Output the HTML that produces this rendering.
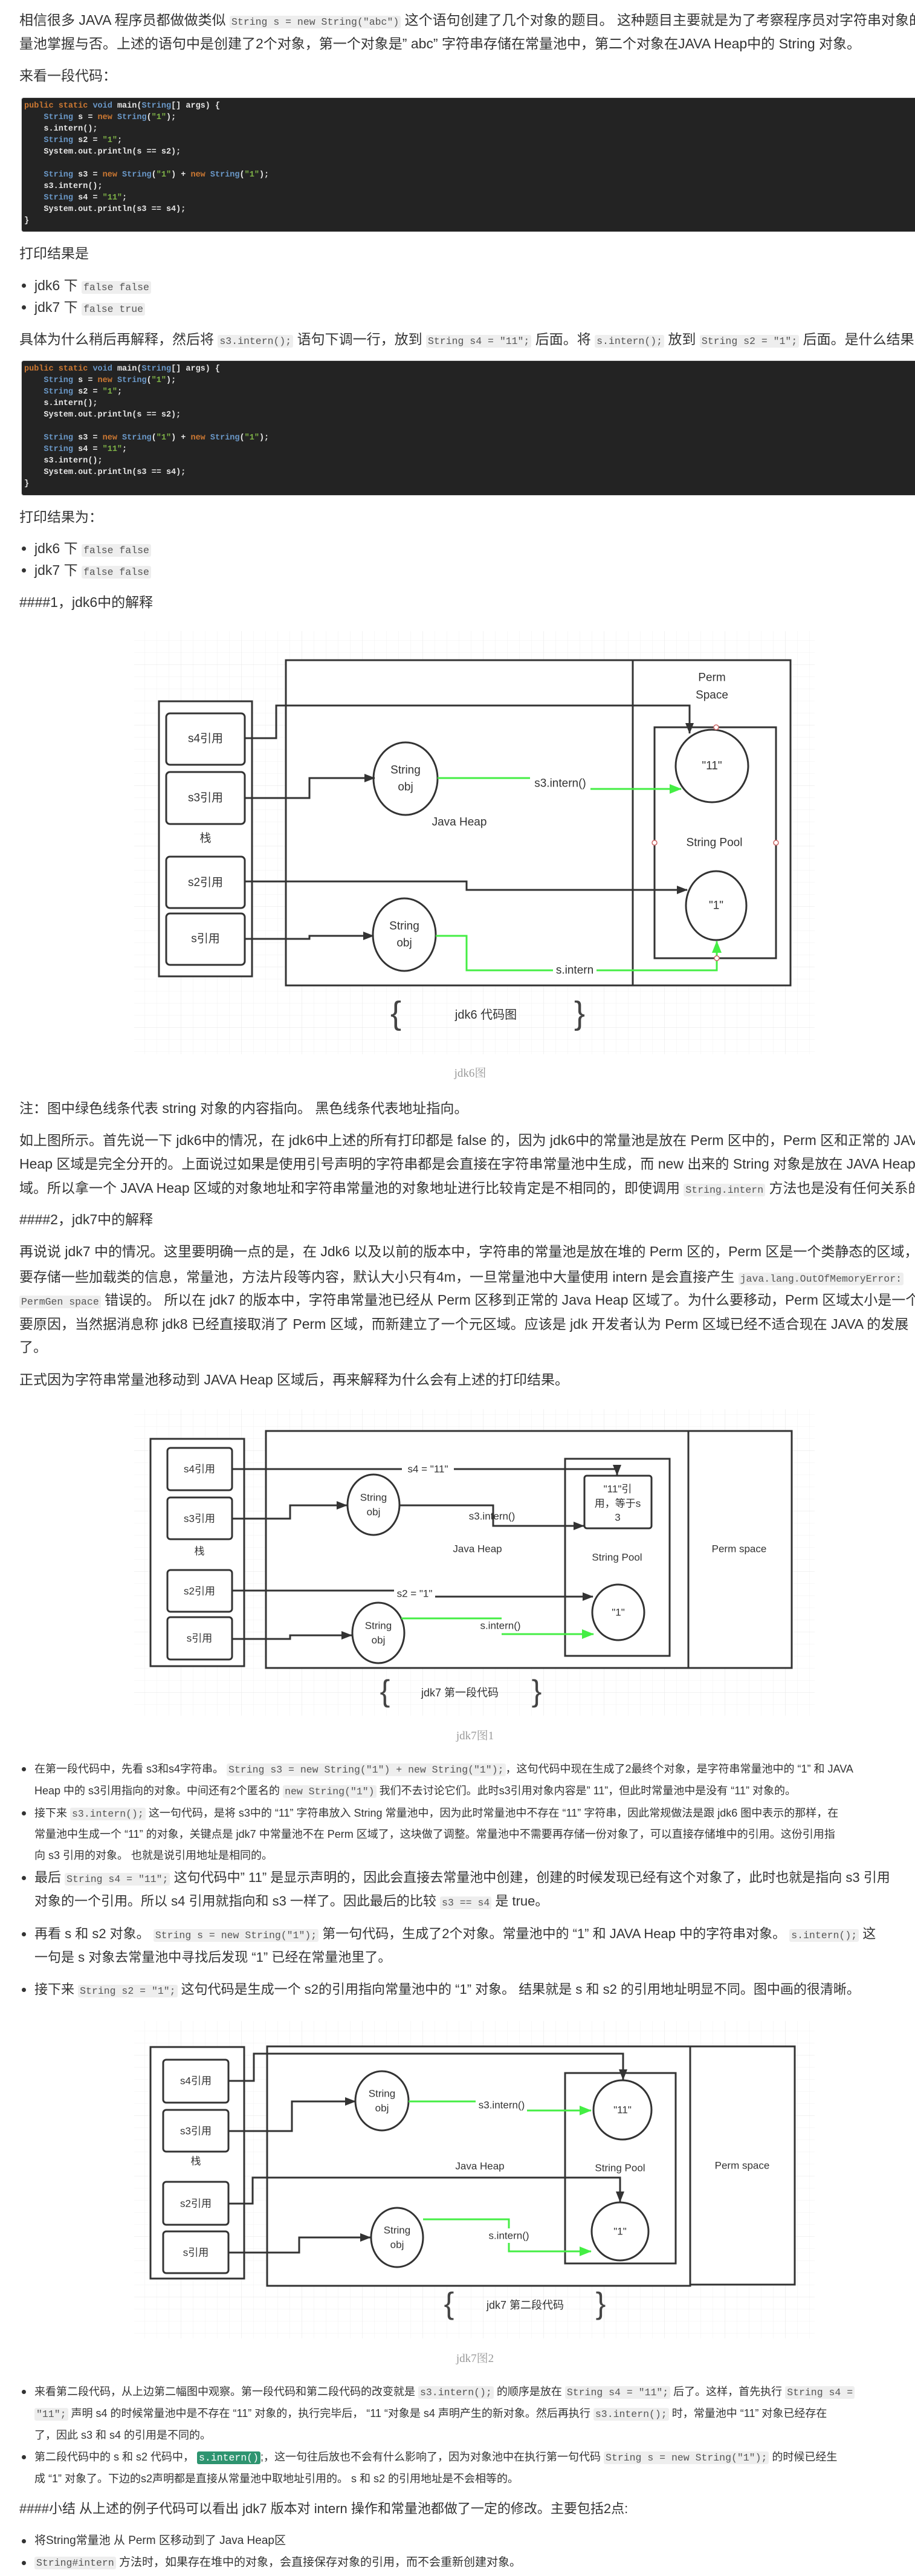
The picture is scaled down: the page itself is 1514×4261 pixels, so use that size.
<!DOCTYPE html>
<html><head><meta charset="utf-8">
<style>
html,body{margin:0;padding:0;background:#fff;}
body{width:1514px;height:4261px;position:relative;overflow:hidden;font-family:"Liberation Sans","Noto Sans CJK SC",sans-serif;color:#333;}
.t{position:absolute;left:32px;white-space:nowrap;line-height:30px;font-size:23px;}
.m{font-size:22px;}
.s{font-size:18px;left:57px;}
.f{font-size:19px;left:57px;}
.b{left:57px;}
.dot{position:absolute;width:7px;height:7px;border-radius:50%;background:#333;left:36px;}
code{font-family:"Liberation Mono",monospace;font-size:16.5px;background:#eeeeee;color:#555;border-radius:3px;padding:1px 3px;}
code.g{background:#2e9470;color:#fff;}
.cb{position:absolute;left:35px;width:1500px;background:#232323;border-radius:4px;border:1px solid #ddd;}
pre{position:absolute;left:40px;margin:0;font-family:"Liberation Mono",monospace;font-weight:bold;font-size:13.5px;line-height:19px;color:#e8e8e8;}
.k{color:#cc7832}.ty{color:#6a98c8}.st{color:#7fb347}
.cap{position:absolute;font-family:"Liberation Serif","Noto Serif CJK SC",serif;font-size:19px;color:#999;width:200px;text-align:center;}
</style></head><body>

<div class="t" style="top:18px">相信很多 JAVA 程序员都做做类似 <code>String s = new String("abc")</code> 这个语句创建了几个对象的题目。 这种题目主要就是为了考察程序员对字符串对象的常</div>
<div class="t" style="top:57px">量池掌握与否。上述的语句中是创建了2个对象，第一个对象是” abc” 字符串存储在常量池中，第二个对象在JAVA Heap中的 String 对象。</div>
<div class="t" style="top:110px">来看一段代码：</div>

<div class="cb" style="top:161px;height:221px"></div>
<pre style="top:166px"><span class="k">public static</span> <span class="ty">void</span> main(<span class="ty">String</span>[] args) {
    <span class="ty">String</span> s = <span class="k">new</span> <span class="ty">String</span>(<span class="st">"1"</span>);
    s.intern();
    <span class="ty">String</span> s2 = <span class="st">"1"</span>;
    System.out.println(s == s2);

    <span class="ty">String</span> s3 = <span class="k">new</span> <span class="ty">String</span>(<span class="st">"1"</span>) + <span class="k">new</span> <span class="ty">String</span>(<span class="st">"1"</span>);
    s3.intern();
    <span class="ty">String</span> s4 = <span class="st">"11"</span>;
    System.out.println(s3 == s4);
}</pre>

<div class="t" style="top:404px">打印结果是</div>
<div class="dot" style="top:469px"></div><div class="t b" style="top:457px">jdk6 下 <code>false false</code></div>
<div class="dot" style="top:505px"></div><div class="t b" style="top:493px">jdk7 下 <code>false true</code></div>
<div class="t" style="top:546px">具体为什么稍后再解释，然后将 <code>s3.intern();</code> 语句下调一行，放到 <code>String s4 = "11";</code> 后面。将 <code>s.intern();</code> 放到 <code>String s2 = "1";</code> 后面。是什么结果呢</div>

<div class="cb" style="top:596px;height:222px"></div>
<pre style="top:601px"><span class="k">public static</span> <span class="ty">void</span> main(<span class="ty">String</span>[] args) {
    <span class="ty">String</span> s = <span class="k">new</span> <span class="ty">String</span>(<span class="st">"1"</span>);
    <span class="ty">String</span> s2 = <span class="st">"1"</span>;
    s.intern();
    System.out.println(s == s2);

    <span class="ty">String</span> s3 = <span class="k">new</span> <span class="ty">String</span>(<span class="st">"1"</span>) + <span class="k">new</span> <span class="ty">String</span>(<span class="st">"1"</span>);
    <span class="ty">String</span> s4 = <span class="st">"11"</span>;
    s3.intern();
    System.out.println(s3 == s4);
}</pre>

<div class="t" style="top:840px">打印结果为：</div>
<div class="dot" style="top:904px"></div><div class="t b" style="top:892px">jdk6 下 <code>false false</code></div>
<div class="dot" style="top:940px"></div><div class="t b" style="top:928px">jdk7 下 <code>false false</code></div>
<div class="t" style="top:981px">####1，jdk6中的解释</div>

<div class="cap" style="left:678px;top:1760px">jdk6图</div>
<div class="t" style="top:1818px">注：图中绿色线条代表 string 对象的内容指向。 黑色线条代表地址指向。</div>
<div class="t" style="top:1871px">如上图所示。首先说一下 jdk6中的情况，在 jdk6中上述的所有打印都是 false 的，因为 jdk6中的常量池是放在 Perm 区中的，Perm 区和正常的 JAVA</div>
<div class="t" style="top:1910px">Heap 区域是完全分开的。上面说过如果是使用引号声明的字符串都是会直接在字符串常量池中生成，而 new 出来的 String 对象是放在 JAVA Heap 区</div>
<div class="t" style="top:1950px">域。所以拿一个 JAVA Heap 区域的对象地址和字符串常量池的对象地址进行比较肯定是不相同的，即使调用 <code>String.intern</code> 方法也是没有任何关系的。</div>
<div class="t" style="top:2002px">####2，jdk7中的解释</div>
<div class="t" style="top:2055px">再说说 jdk7 中的情况。这里要明确一点的是，在 Jdk6 以及以前的版本中，字符串的常量池是放在堆的 Perm 区的，Perm 区是一个类静态的区域，主</div>
<div class="t" style="top:2097px">要存储一些加载类的信息，常量池，方法片段等内容，默认大小只有4m，一旦常量池中大量使用 intern 是会直接产生 <code>java.lang.OutOfMemoryError:</code></div>
<div class="t" style="top:2135px"><code>PermGen space</code> 错误的。 所以在 jdk7 的版本中，字符串常量池已经从 Perm 区移到正常的 Java Heap 区域了。为什么要移动，Perm 区域太小是一个主</div>
<div class="t" style="top:2175px">要原因，当然据消息称 jdk8 已经直接取消了 Perm 区域，而新建立了一个元区域。应该是 jdk 开发者认为 Perm 区域已经不适合现在 JAVA 的发展</div>
<div class="t" style="top:2213px">了。</div>
<div class="t" style="top:2267px">正式因为字符串常量池移动到 JAVA Heap 区域后，再来解释为什么会有上述的打印结果。</div>

<div class="cap" style="left:686px;top:2856px">jdk7图1</div>
<div class="dot" style="top:2923px"></div><div class="t s" style="top:2911px">在第一段代码中，先看 s3和s4字符串。 <code>String s3 = new String("1") + new String("1");</code>，这句代码中现在生成了2最终个对象，是字符串常量池中的 “1” 和 JAVA</div>
<div class="t s" style="top:2947px">Heap 中的 s3引用指向的对象。中间还有2个匿名的 <code>new String("1")</code> 我们不去讨论它们。此时s3引用对象内容是” 11”，但此时常量池中是没有 “11” 对象的。</div>
<div class="dot" style="top:2996px"></div><div class="t s" style="top:2984px">接下来 <code>s3.intern();</code> 这一句代码，是将 s3中的 “11” 字符串放入 String 常量池中，因为此时常量池中不存在 “11” 字符串，因此常规做法是跟 jdk6 图中表示的那样，在</div>
<div class="t s" style="top:3019px">常量池中生成一个 “11” 的对象，关键点是 jdk7 中常量池不在 Perm 区域了，这块做了调整。常量池中不需要再存储一份对象了，可以直接存储堆中的引用。这份引用指</div>
<div class="t s" style="top:3054px">向 s3 引用的对象。 也就是说引用地址是相同的。</div>
<div class="dot" style="top:3103px"></div><div class="t b m" style="top:3091px">最后 <code>String s4 = "11";</code> 这句代码中” 11” 是显示声明的，因此会直接去常量池中创建，创建的时候发现已经有这个对象了，此时也就是指向 s3 引用</div>
<div class="t b m" style="top:3130px">对象的一个引用。所以 s4 引用就指向和 s3 一样了。因此最后的比较 <code>s3 == s4</code> 是 true。</div>
<div class="dot" style="top:3196px"></div><div class="t b m" style="top:3184px">再看 s 和 s2 对象。 <code>String s = new String("1");</code> 第一句代码，生成了2个对象。常量池中的 “1” 和 JAVA Heap 中的字符串对象。 <code>s.intern();</code> 这</div>
<div class="t b m" style="top:3223px">一句是 s 对象去常量池中寻找后发现 “1” 已经在常量池里了。</div>
<div class="dot" style="top:3288px"></div><div class="t b m" style="top:3276px">接下来 <code>String s2 = "1";</code> 这句代码是生成一个 s2的引用指向常量池中的 “1” 对象。 结果就是 s 和 s2 的引用地址明显不同。图中画的很清晰。</div>

<div class="cap" style="left:686px;top:3886px">jdk7图2</div>
<div class="dot" style="top:3953px"></div><div class="t s" style="top:3941px">来看第二段代码，从上边第二幅图中观察。第一段代码和第二段代码的改变就是 <code>s3.intern();</code> 的顺序是放在 <code>String s4 = "11";</code> 后了。这样，首先执行 <code>String s4 =</code></div>
<div class="t s" style="top:3977px"><code>"11";</code> 声明 s4 的时候常量池中是不存在 “11” 对象的，执行完毕后， “11 “对象是 s4 声明产生的新对象。然后再执行 <code>s3.intern();</code> 时，常量池中 “11” 对象已经存在</div>
<div class="t s" style="top:4013px">了，因此 s3 和 s4 的引用是不同的。</div>
<div class="dot" style="top:4061px"></div><div class="t s" style="top:4049px">第二段代码中的 s 和 s2 代码中， <code class="g">s.intern()</code>;，这一句往后放也不会有什么影响了，因为对象池中在执行第一句代码 <code>String s = new String("1");</code> 的时候已经生</div>
<div class="t s" style="top:4085px">成 “1” 对象了。下边的s2声明都是直接从常量池中取地址引用的。 s 和 s2 的引用地址是不会相等的。</div>
<div class="t m" style="top:4135px">####小结 从上述的例子代码可以看出 jdk7 版本对 intern 操作和常量池都做了一定的修改。主要包括2点:</div>
<div class="dot" style="top:4200px"></div><div class="t f" style="top:4188px">将String常量池 从 Perm 区移动到了 Java Heap区</div>
<div class="dot" style="top:4236px"></div><div class="t f" style="top:4224px"><code>String#intern</code> 方法时，如果存在堆中的对象，会直接保存对象的引用，而不会重新创建对象。</div>

<svg style="position:absolute;left:0;top:0" width="1514" height="4261" viewBox="0 0 1514 4261" font-family="Liberation Sans, Noto Sans CJK SC, sans-serif">
<defs>
<pattern id="gm" width="20" height="20" patternUnits="userSpaceOnUse"><path d="M20 0V20H0" fill="none" stroke="#f1f1f1" stroke-width="1"/></pattern>
<pattern id="gM" width="100" height="100" patternUnits="userSpaceOnUse"><rect width="100" height="100" fill="url(#gm)"/><path d="M100 0V100H0" fill="none" stroke="#e4e4e4" stroke-width="1"/></pattern>
<marker id="ab" markerWidth="18" markerHeight="14" viewBox="0 0 18 14" refX="17" refY="7" orient="auto" markerUnits="userSpaceOnUse"><path d="M0,0L18,7L0,14z" fill="#333"/></marker>
<marker id="ag" markerWidth="20" markerHeight="16" viewBox="0 0 20 16" refX="19" refY="8" orient="auto" markerUnits="userSpaceOnUse"><path d="M0,0L20,8L0,16z" fill="#44ee44"/></marker>
</defs>
<rect x="222" y="1044" width="1126" height="700" fill="url(#gM)"/>
<rect x="222" y="2331" width="1126" height="507" fill="url(#gM)"/>
<rect x="222" y="3343" width="1126" height="525" fill="url(#gM)"/>

<g fill="none" stroke="#333" stroke-width="3">
<rect x="473" y="1092" width="574" height="538" fill="#fff"/>
<rect x="1047" y="1092" width="261" height="538" fill="#fff"/>
<rect x="263" y="1160" width="154" height="455" fill="#fff"/>
<rect x="275" y="1180" width="130" height="85" rx="6"/>
<rect x="275" y="1277" width="130" height="86" rx="6"/>
<rect x="275" y="1417" width="130" height="85" rx="6"/>
<rect x="275" y="1511" width="130" height="85" rx="6"/>
<ellipse cx="671" cy="1288" rx="53" ry="60"/>
<ellipse cx="669" cy="1546" rx="52" ry="60"/>
<rect x="1083" y="1203" width="201" height="382"/>
<circle cx="1178" cy="1267" r="60"/>
<ellipse cx="1185" cy="1498" rx="50" ry="57"/>
<path d="M405,1221H457V1167H1141V1213" marker-end="url(#ab)"/>
<path d="M405,1320H512V1287H620" marker-end="url(#ab)"/>
<path d="M405,1458H772V1472H1137" marker-end="url(#ab)"/>
<path d="M405,1553H512V1548H618" marker-end="url(#ab)"/>
<path d="M724,1287H877" stroke="#44ee44"/>
<path d="M977,1305H1127" stroke="#44ee44" marker-end="url(#ag)"/>
<path d="M721,1548H772V1605H1186V1557" stroke="#44ee44" marker-end="url(#ag)"/>
<rect x="440" y="2367" width="699" height="392" fill="#fff"/>
<rect x="1139" y="2367" width="171" height="392" fill="#fff"/>
<rect x="249" y="2380" width="155" height="376" fill="#fff"/>
<rect x="277" y="2395" width="107" height="70" rx="5"/>
<rect x="277" y="2477" width="107" height="69" rx="5"/>
<rect x="277" y="2597" width="107" height="69" rx="5"/>
<rect x="277" y="2675" width="107" height="70" rx="5"/>
<ellipse cx="618" cy="2489" rx="43" ry="50"/>
<ellipse cx="626" cy="2701" rx="43" ry="50"/>
<rect x="935" y="2413" width="173" height="326"/>
<rect x="967" y="2441" width="111" height="87" rx="4"/>
<ellipse cx="1023" cy="2667" rx="43" ry="46"/>
<path d="M384,2430H1021V2440" marker-end="url(#ab)"/>
<path d="M384,2512H480V2490H574" marker-end="url(#ab)"/>
<path d="M661,2490H816V2524H966" marker-end="url(#ab)"/>
<path d="M384,2631H652M719,2641H981" marker-end="url(#ab)"/>
<path d="M384,2711H480V2705H582" marker-end="url(#ab)"/>
<path d="M664,2677H830" stroke="#44ee44"/>
<path d="M830,2703H982" stroke="#44ee44" marker-end="url(#ag)"/>
<rect x="442" y="3385" width="700" height="396" fill="#fff"/>
<rect x="1142" y="3385" width="173" height="394" fill="#fff"/>
<rect x="249" y="3386" width="155" height="383" fill="#fff"/>
<rect x="270" y="3407" width="108" height="71" rx="5"/>
<rect x="270" y="3490" width="108" height="69" rx="5"/>
<rect x="270" y="3609" width="108" height="71" rx="5"/>
<rect x="270" y="3691" width="108" height="69" rx="5"/>
<ellipse cx="632" cy="3475" rx="44" ry="49"/>
<ellipse cx="657" cy="3701" rx="43" ry="49"/>
<rect x="935" y="3429" width="183" height="315"/>
<ellipse cx="1030" cy="3490" rx="48" ry="49"/>
<ellipse cx="1026" cy="3691" rx="47" ry="48"/>
<path d="M378,3442H420V3397H1031V3440" marker-end="url(#ab)"/>
<path d="M378,3525H483V3476H588" marker-end="url(#ab)"/>
<path d="M378,3645H418V3602H1026V3642" marker-end="url(#ab)"/>
<path d="M378,3726H495V3701H613" marker-end="url(#ab)"/>
<path d="M676,3476H787" stroke="#44ee44"/>
<path d="M872,3491H978" stroke="#44ee44" marker-end="url(#ag)"/>
<path d="M700,3671H842V3724H978" stroke="#44ee44" marker-end="url(#ag)"/>
</g>
<g fill="#fff" stroke="#c66" stroke-width="1.5">
<circle cx="1185" cy="1203" r="4"/><circle cx="1083" cy="1394" r="4"/><circle cx="1284" cy="1394" r="4"/><circle cx="1186" cy="1585" r="4"/>
</g>
<g fill="#fff">
<rect x="915" y="1593" width="72" height="24"/>
<rect x="665" y="2419" width="86" height="22"/>
<rect x="652" y="2624" width="68" height="24"/>
<rect x="800" y="3686" width="84" height="24"/>
</g>
<g fill="#333" font-size="19" text-anchor="middle" dominant-baseline="central">
<text x="340" y="1222">s4引用</text><text x="340" y="1320">s3引用</text><text x="340" y="1387">栈</text><text x="340" y="1460">s2引用</text><text x="340" y="1553">s引用</text>
<text x="671" y="1274">String</text><text x="671" y="1302">obj</text>
<text x="669" y="1532">String</text><text x="669" y="1560">obj</text>
<text x="1178" y="1121">Perm</text><text x="1178" y="1150">Space</text>
<text x="760" y="1360">Java Heap</text><text x="1182" y="1394">String Pool</text>
<text x="1178" y="1267">"11"</text><text x="1185" y="1498">"1"</text>
<text x="927" y="1296">s3.intern()</text><text x="951" y="1605">s.intern</text>
<text x="804" y="1679" font-size="20">jdk6 代码图</text>
<text x="655" y="1676" font-size="54" fill="#444">{</text><text x="959" y="1676" font-size="54" fill="#444">}</text>

<text x="330" y="2430" font-size="17">s4引用</text><text x="330" y="2512" font-size="17">s3引用</text><text x="330" y="2566" font-size="17">栈</text><text x="330" y="2632" font-size="17">s2引用</text><text x="330" y="2710" font-size="17">s引用</text>
<text x="618" y="2477" font-size="17">String</text><text x="618" y="2501" font-size="17">obj</text>
<text x="626" y="2689" font-size="17">String</text><text x="626" y="2713" font-size="17">obj</text>
<text x="1022" y="2463" font-size="17">"11"引</text><text x="1022" y="2487" font-size="17">用，等于s</text><text x="1022" y="2510" font-size="17">3</text>
<text x="1023" y="2667" font-size="17">"1"</text>
<text x="790" y="2562" font-size="17">Java Heap</text><text x="1021" y="2576" font-size="17">String Pool</text><text x="1223" y="2562" font-size="17">Perm space</text>
<text x="708" y="2430" font-size="17">s4 = "11"</text><text x="814" y="2508" font-size="17">s3.intern()</text>
<text x="686" y="2636" font-size="17">s2 = "1"</text><text x="828" y="2689" font-size="17">s.intern()</text>
<text x="761" y="2800" font-size="18">jdk7 第一段代码</text>
<text x="637" y="2797" font-size="50" fill="#444">{</text><text x="888" y="2797" font-size="50" fill="#444">}</text>

<text x="324" y="3442" font-size="17">s4引用</text><text x="324" y="3525" font-size="17">s3引用</text><text x="324" y="3575" font-size="17">栈</text><text x="324" y="3645" font-size="17">s2引用</text><text x="324" y="3726" font-size="17">s引用</text>
<text x="632" y="3463" font-size="17">String</text><text x="632" y="3487" font-size="17">obj</text>
<text x="657" y="3689" font-size="17">String</text><text x="657" y="3713" font-size="17">obj</text>
<text x="1030" y="3490" font-size="17">"11"</text><text x="1026" y="3691" font-size="17">"1"</text>
<text x="794" y="3583" font-size="17">Java Heap</text><text x="1026" y="3586" font-size="17">String Pool</text><text x="1228" y="3582" font-size="17">Perm space</text>
<text x="830" y="3482" font-size="17">s3.intern()</text><text x="842" y="3698" font-size="17">s.intern()</text>
<text x="869" y="3813" font-size="18">jdk7 第二段代码</text>
<text x="743" y="3810" font-size="50" fill="#444">{</text><text x="994" y="3810" font-size="50" fill="#444">}</text>
</g>
</svg>
</body></html>
